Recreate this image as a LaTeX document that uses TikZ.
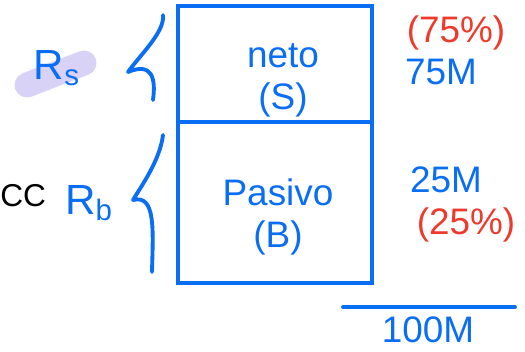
\documentclass[tikz,border=0pt]{standalone}
\usepackage{fontspec}
\setmainfont{Liberation Sans}
\usetikzlibrary{positioning}
\definecolor{Ink}{HTML}{0A6EF5}
\definecolor{RedInk}{HTML}{EE3A2C}
\definecolor{Lilac}{HTML}{D9D2F7}

\begin{document}
\begin{tikzpicture}[x=0.02cm,y=-0.02cm,
    box/.style={draw=Ink,line width=2.2pt,minimum width=3.88cm,outer sep=0pt,inner sep=0pt},
    hand/.style={text=Ink,align=center,inner sep=0pt,font=\fontsize{21}{24}\selectfont},
    pct/.style={text=RedInk,inner sep=0pt,font=\fontsize{21}{24}\selectfont},
    stroke/.style={Ink,line width=2.2pt,line cap=round,line join=round}]
  \useasboundingbox (0,0) rectangle (525,352);
  % the two parts of the box
  \node[box,minimum height=2.32cm,anchor=north west] (S) at (178,6) {};
  \node[box,minimum height=3.22cm,below=0pt of S] (B) {};
  \node[hand] (Stxt) at (283,80) {neto\\(S)};
  \node[hand] (Btxt) at (278,217) {Pasivo\\(B)};
  % braces
  \draw[stroke] (163,15) .. controls (165,32) and (140,55) .. (128,72)
                         .. controls (152,62) and (156,78) .. (153,100);
  \draw[stroke] (163,135) .. controls (160,160) and (142,185) .. (133,200)
                          .. controls (156,194) and (153,230) .. (152,272);
  % left labels
  \draw[Lilac,line width=0.5cm,line cap=round] (27,85) -- (84,63);
  \node[hand,font=\fontsize{24}{24}\selectfont] (Rs) at (57,68) {R\textsubscript{s}};
  \node[hand,font=\fontsize{24}{24}\selectfont] (Rb) at (89,203) {R\textsubscript{b}};
  \node[anchor=west,inner sep=0pt,font=\fontsize{18}{18}\selectfont] (cc) at (0,196) {CC};
  % right labels
  \node[pct] (pS) at (456,33) {(75\%)};
  \node[hand] (mS) at (441,72) {75M};
  \node[hand] (mB) at (446,180) {25M};
  \node[pct] (pB) at (466,225) {(25\%)};
  % total
  \coordinate (t1) at (343,307);
  \coordinate (t2) at (515,307);
  \draw[stroke] (t1) -- (t2);
  \node[hand] (tot) at (428,330) {100M};
\end{tikzpicture}
\end{document}
